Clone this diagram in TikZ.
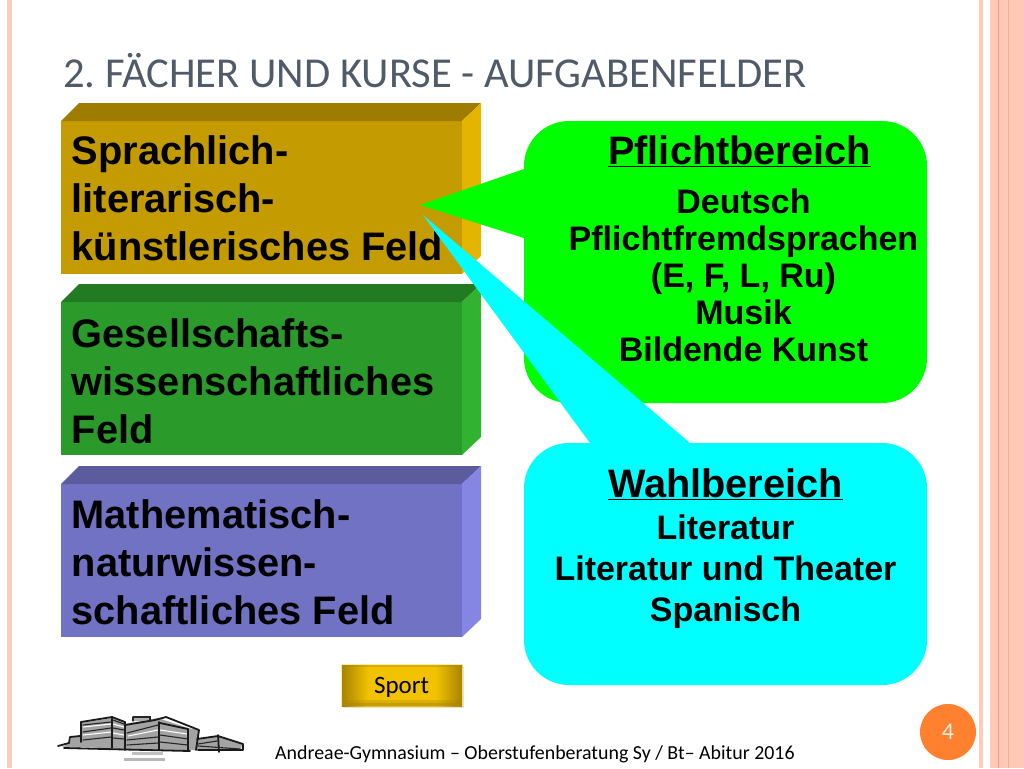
\documentclass[tikz,border=0pt]{standalone}
\usepackage{fontspec}
\setmainfont{Liberation Sans}
\newfontfamily\slidefont{Carlito}
\definecolor{stripe}{HTML}{FFC9B5}
\definecolor{stripedark}{HTML}{E8A080}
\definecolor{stripeleft}{HTML}{FFCABC}
\definecolor{titlegray}{HTML}{505A68}
\definecolor{goldfront}{HTML}{C49B00}
\definecolor{goldtop}{HTML}{9D7C00}
\definecolor{goldside}{HTML}{E3B400}
\definecolor{greenfront}{HTML}{2A9A2A}
\definecolor{greentop}{HTML}{227B22}
\definecolor{greenside}{HTML}{31B331}
\definecolor{bluefront}{HTML}{7272C4}
\definecolor{bluetop}{HTML}{5B5B9D}
\definecolor{blueside}{HTML}{8585E3}
\definecolor{pflicht}{HTML}{00FF00}
\definecolor{wahl}{HTML}{00FFFF}
\definecolor{numcol}{HTML}{FF8130}
\definecolor{sportdark}{HTML}{A88400}
\definecolor{sportlight}{HTML}{F2C200}
\pgfdeclarehorizontalshading{sportglow}{100bp}{color(0bp)=(sportdark); color(25bp)=(sportdark); color(36bp)=(sportlight); color(64bp)=(sportlight); color(75bp)=(sportdark); color(100bp)=(sportdark)}
\frenchspacing
\tikzset{
  fieldtext/.style = {anchor=north west, inner sep=0pt, align=left, font=\fontsize{39.8}{48}\selectfont\bfseries},
  headtext/.style  = {anchor=base, inner sep=0pt, font=\fontsize{39.7}{47}\selectfont\bfseries},
  listtext/.style  = {anchor=north, inner sep=0pt, align=center, font=\fontsize{34}{37}\selectfont\bfseries},
  slidetext/.style = {anchor=base west, inner sep=0pt},
  sketch/.style    = {black!90, line width=1.8pt, line cap=round, line join=round},
  sketchthin/.style = {black!85, line width=1.1pt, line cap=round}
}
% one bevelled field: x values are fixed, #1 = colour prefix, #2 = top edge
\newcommand{\fieldbox}[2]{
  \fill[#1front] (61,#2+18) rectangle (462,#2+171);
  \fill[#1top]   (61,#2+18) -- (79,#2) -- (481,#2) -- (462,#2+18) -- cycle;
  \fill[#1side]  (462,#2+18) -- (481,#2) -- (481,#2+153) -- (462,#2+171) -- cycle;
}
\begin{document}
\begin{tikzpicture}[x=1pt, y=-1pt]
  \useasboundingbox (0,0) rectangle (1024,768);
  \fill[white] (0,0) rectangle (1024,768);

  % stripes at the edges
  \fill[stripeleft] (7,0) rectangle (12,768);
  \fill[stripeleft] (979,0) rectangle (983,768);
  \fill[stripe] (990,0) rectangle (1024,768);
  \fill[stripedark!60!stripe] (1007.5,0) rectangle (1008,768);
  \fill[stripedark] (998,0) rectangle (999,768);

  \node[slidetext, text=titlegray, font=\slidefont\fontsize{42.6}{43}\selectfont] (title) at (63,87) {2. FÄCHER UND KURSE - AUFGABENFELDER};

  \fieldbox{gold}{103}
  \fieldbox{green}{284}
  \fieldbox{blue}{466}
  \node[fieldtext] (sprach) at (71.5,135.5) {Sprachlich-\\literarisch-\\künstlerisches Feld};
  \node[fieldtext] (gesell) at (71.5,318) {Gesellschafts-\\wissenschaftliches\\Feld};
  \node[fieldtext] (mathe)  at (71.5,499) {Mathematisch-\\naturwissen-\\schaftliches Feld};

  % callouts
  \fill[pflicht] (420,205) -- (524,238) [rounded corners=45pt] -- (524,403) -- (927,403) -- (927,121) -- (524,121) [sharp corners] -- (524,169) -- cycle;
  \fill[wahl] (423,215) -- (590,443) [rounded corners=45pt] -- (524,443) -- (524,685) -- (927,685) -- (927,443) [sharp corners] -- (690,443) -- cycle;

  \node[headtext] (pflichthead) at (739.5,164) {\underline{Pflichtbereich}};
  \node[listtext] (pflichtlist) at (743.5,188.5) {Deutsch\\Pflichtfremdsprachen\\(E, F, L, Ru)\\Musik\\Bildende Kunst};
  \node[headtext] (wahlhead) at (725.5,497) {\underline{Wahlbereich}};
  \node[listtext, font=\fontsize{34}{41}\selectfont\bfseries] (wahllist) at (725.5,515) {Literatur\\Literatur und Theater\\Spanisch};

  % sport button
  \fill[black!12] (343,667) rectangle (463.5,708);
  \fill[sportlight!35] (341,664) rectangle (463,707);
  \shade[shading=sportglow] (342,665) rectangle (462,706);
  \fill[sportdark, opacity=.35] (342,665) rectangle (462,667);
  \fill[sportdark, opacity=.3] (342,700) rectangle (462,706);
  \fill[sportdark, opacity=.4] (342,703) rectangle (462,706);
  \node[inner sep=0pt, font=\slidefont\fontsize{25}{25}\selectfont] (sport) at (401.5,687) {Sport};

  % building
  \fill[black!36] (81,723) -- (112,718) -- (125,722) -- (125,749) -- (81,747) -- cycle;
  \fill[black!36] (125,724) -- (158,718) -- (188,728) -- (199,730) -- (197,750) -- (125,750) -- cycle;
  \fill[black!36] (62,747) -- (70,743) -- (71,737) -- (81,736) -- (81,748) -- cycle;
  \fill[black!36] (197,739) -- (218,736) -- (242,744) -- (241,750) -- (197,750) -- cycle;
  \fill[black!32] (133,717) rectangle (150,721);
  \fill[black!25] (132,752) rectangle (163,755);
  \fill[black!28] (124,758) rectangle (165,761);
  \draw[white, line width=1.1pt] (83,727) -- (111,724) (83,735) -- (111,732) (113,724) -- (124,727) (113,733) -- (124,735) (128,736) -- (158,730) (160,730) -- (187,734);
  \draw[sketch] (81,722) -- (112,717) -- (125,722) -- (125,750);
  \draw[sketch] (81,722) -- (81,742);
  \draw[sketch] (112,717) -- (112,748);
  \draw[sketch] (125,725) -- (155,720) -- (166,717) -- (199,730) -- (196,750);
  \draw[sketch] (160,723) -- (188,729) -- (188,750);
  \draw[sketch] (159,722) -- (159,750);
  \draw[sketch] (58,746) -- (69,743) -- (70,737) -- (80,736);
  \draw[sketch] (64,748) -- (125,749.5) -- (190,751);
  \draw[sketch] (197,739) -- (218,736) -- (243,744) -- (243,750) -- (198,750);
  \draw[sketch] (218,735) -- (219,752);
  \draw[sketchthin] (83,725) -- (111,722) (83,732) -- (111,728) (83,740) -- (111,737);
  \draw[sketchthin] (113,720) -- (124,724) (113,728) -- (124,730) (113,738) -- (124,739);
  \draw[sketchthin] (127,733) -- (158,725) (127,740) -- (158,737) (127,745) -- (158,743);
  \draw[sketchthin] (160,735) -- (188,739) (160,742) -- (188,745);
  \draw[sketchthin] (198,744) -- (217,741) (198,746) -- (240,749);
  \draw[sketchthin] (133,717) -- (150,717) -- (150,721) (133,717) -- (133,721);

  \node[slidetext, font=\slidefont\fontsize{19.9}{20}\selectfont] (footer) at (275,759) {Andreae-Gymnasium – Oberstufenberatung Sy / Bt– Abitur 2016};

  \node[circle, fill=numcol, minimum size=56pt, inner sep=0pt, text=white!85!numcol, font=\slidefont\fontsize{24}{24}\selectfont] (pagenum) at (948,732) {4};
\end{tikzpicture}
\end{document}
